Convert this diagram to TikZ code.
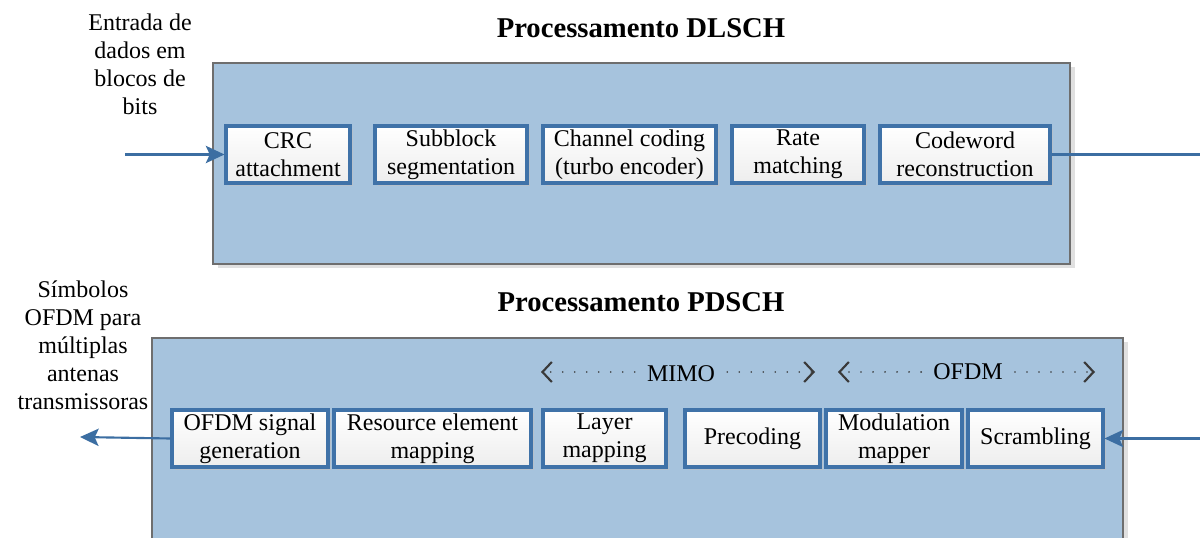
\documentclass[tikz,border=0pt]{standalone}
\usepackage{fontspec}
\setmainfont{Liberation Serif}
\usetikzlibrary{arrows.meta,shadows,positioning}
\definecolor{panelfill}{HTML}{A6C3DD}
\definecolor{panelline}{HTML}{6E6E6E}
\definecolor{boxline}{HTML}{3F72A8}
\definecolor{flowline}{HTML}{3C6EA2}
\definecolor{chevron}{HTML}{3A3A3A}
\tikzset{
  panel/.style={draw=panelline, line width=0.9pt, fill=panelfill,
    drop shadow={shadow xshift=4pt, shadow yshift=-3pt, fill=black!12, opacity=1}},
  title/.style={font=\fontsize{21.5}{26}\selectfont\bfseries},
  caption/.style={align=center, font=\fontsize{18}{21}\selectfont, inner sep=0pt},
  stage/.style={draw=boxline, line width=2.3pt, top color=white, bottom color=black!7,
    align=center, font=\fontsize{18}{21}\selectfont, inner sep=0pt,
    drop shadow={shadow xshift=2pt, shadow yshift=-2pt, fill=black!25, opacity=0.6}},
  flow/.style={draw=flowline, line width=1.6pt},
  flowarrow/.style={flow, -{Stealth[length=14pt, width=13pt, inset=3pt]}},
  span/.style={draw=chevron, line width=1.4pt, line cap=round,
    dash pattern=on 0pt off 9pt,
    -{Straight Barb[length=7pt, width=15pt, line width=1.6pt, color=chevron]}},
  spanlabel/.style={font=\fontsize{18}{21}\selectfont, inner xsep=9pt, inner ysep=0pt},
}
\begin{document}
\begin{tikzpicture}[x=0.75pt, y=-0.75pt]
\useasboundingbox (0,0) rectangle (1200,538);

% ---- DLSCH processing chain ----
\node[title] (t1) at (641,28) {Processamento DLSCH};
\node[panel, minimum width=857*0.75pt, minimum height=201*0.75pt] (dl) at (641.5,163.5) {};

\node[stage, minimum width=124*0.75pt, minimum height=57*0.75pt] (crc) at (288,154.5) {CRC\\attachment};
\node[stage, minimum width=152*0.75pt, minimum height=57*0.75pt] (seg) at (451,154.5) {Subblock\\segmentation};
\node[stage, minimum width=173*0.75pt, minimum height=57*0.75pt] (turbo) at (629.5,154.5) {Channel coding\\(turbo encoder)};
\node[stage, minimum width=132*0.75pt, minimum height=57*0.75pt] (rate) at (798,154.5) {Rate\\matching};
\node[stage, minimum width=170*0.75pt, minimum height=57*0.75pt] (cw) at (965,154.5) {Codeword\\reconstruction};

\node[caption] (inlbl) at (140,64) {Entrada de\\dados em\\blocos de\\bits};
\coordinate (inpt) at (125,154.5);
\coordinate (outpt) at (1200,154.5);
\draw[flowarrow] (inpt) -- (crc.west);
\draw[flow] (cw.east) -- (outpt);

% ---- PDSCH processing chain ----
\node[title] (t2) at (641,302) {Processamento PDSCH};
\node[panel, minimum width=971*0.75pt, minimum height=220*0.75pt] (pd) at (637.5,448) {};

\node[stage, minimum width=156*0.75pt, minimum height=57*0.75pt] (ofdm) at (250,438.5) {OFDM signal\\generation};
\node[stage, minimum width=197*0.75pt, minimum height=57*0.75pt] (rem) at (432.5,438.5) {Resource element\\mapping};
\node[stage, minimum width=123*0.75pt, minimum height=57*0.75pt] (layer) at (604.5,438.5) {Layer\\mapping};
\node[stage, minimum width=135*0.75pt, minimum height=57*0.75pt] (prec) at (752.5,438.5) {Precoding};
\node[stage, minimum width=136*0.75pt, minimum height=57*0.75pt] (mod) at (894,438.5) {Modulation\\mapper};
\node[stage, minimum width=135*0.75pt, minimum height=57*0.75pt] (scr) at (1035.5,438.5) {Scrambling};

\node[caption] (outlbl) at (83,345) {Símbolos\\OFDM para\\múltiplas\\antenas\\transmissoras};
\coordinate (pin) at (1200,438.5);
\coordinate (pout) at (80,437);
\draw[flowarrow] (pin) -- (scr.east);
\draw[flowarrow] (ofdm.west) -- (pout);

% ---- MIMO / OFDM extents ----
\node[spanlabel] (mimo) at (681,374) {MIMO};
\coordinate (m1) at (541,372);
\coordinate (m2) at (815,372);
\draw[span] (mimo.west |- m1) -- (m1);
\draw[span] (mimo.east |- m2) -- (m2);

\node[spanlabel] (ofdmspan) at (968,372) {OFDM};
\coordinate (o1) at (838,372);
\coordinate (o2) at (1095,372);
\draw[span] (ofdmspan.west |- o1) -- (o1);
\draw[span] (ofdmspan.east |- o2) -- (o2);
\end{tikzpicture}
\end{document}
